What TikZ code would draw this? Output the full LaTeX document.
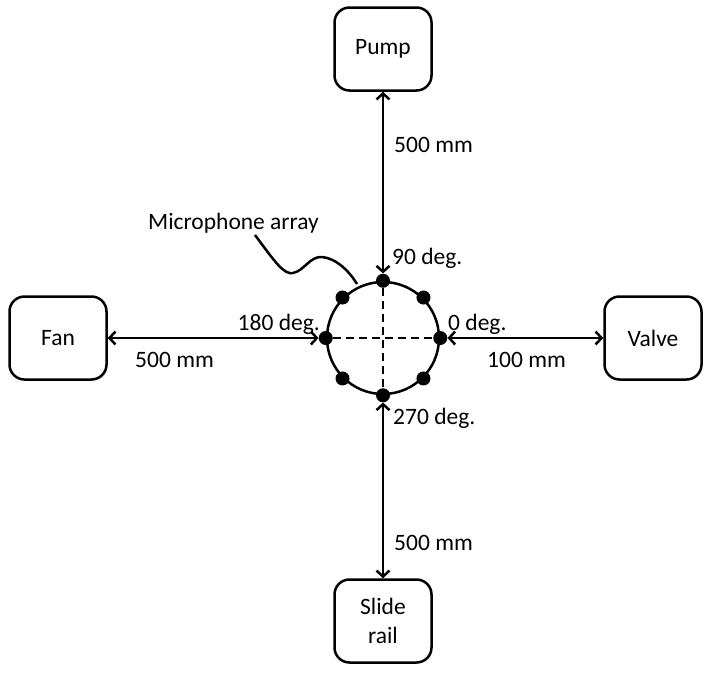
\documentclass[tikz,border=0pt]{standalone}
\usepackage{fontspec}
\setmainfont{Carlito}
\usepackage{tikz}
\usetikzlibrary{shapes,arrows.meta,positioning}
\tikzstyle{device} = [rectangle, draw=black, line width=2.5pt, rounded corners=15pt, minimum width=97pt, minimum height=83pt, align=center, font=\fontsize{23.5}{29}\selectfont]
\tikzstyle{array} = [circle, draw=black, line width=2.5pt, minimum size=112pt, inner sep=0pt]
\tikzstyle{mic} = [circle, fill=black, minimum size=14pt, inner sep=0pt]
\tikzstyle{textonly} = [draw=none, fill=none, inner sep=0pt, font=\fontsize{23.5}{29}\selectfont]
\tikzstyle{tedge}  = [draw, line width=2.5pt, >={Straight Barb[length=6pt,width=13pt]}, <->]
\tikzstyle{axis} = [draw, line width=2.5pt, dash pattern=on 8pt off 5pt]

\begin{document}
\begin{tikzpicture}[x=1pt, y=-1pt]
\useasboundingbox (0,0) rectangle (710,673);

% microphone array =============================
\node[array] (arr) at (383,338) {};
\foreach \a in {0,45,...,315}
  \node[mic] (m\a) at (arr.\a) {};
\path[axis] (m180) -- (m0);
\path[axis] (m90) -- (m270);

% devices
\node[device, above=189pt of arr] (pump) {Pump};
\node[device, left=218pt of arr] (fan) {Fan};
\node[device, right=163pt of arr] (valve) {Valve};
\node[device, below=183pt of arr] (rail) {Slide\\rail};

% labels
\node[textonly, anchor=base west] (l90) at (392,264) {90 deg.};
\node[textonly, anchor=base east] (l180) at (320,330) {180 deg.};
\node[textonly, anchor=base west] (l0) at (448,330) {0 deg.};
\node[textonly, anchor=base west] (l270) at (393,424) {270 deg.};
\node[textonly, anchor=base west] (dtop) at (394,152) {500 mm};
\node[textonly, anchor=base west] (dleft) at (135,367) {500 mm};
\node[textonly, anchor=base west] (dright) at (487,367) {100 mm};
\node[textonly, anchor=base west] (dbottom) at (394,550) {500 mm};
\node[textonly, anchor=base west] (name) at (148,229) {Microphone array};

% edges
\path[tedge] (pump) -- (m90);
\path[tedge] (fan) -- (m180);
\path[tedge] (valve) -- (m0);
\path[tedge] (rail) -- (m270);

% pointer to the array
\coordinate (tail) at (255,235);
\coordinate (tip) at (357,284);
\draw[line width=2.5pt] (tail) .. controls (275,262) and (284,275) .. (293,273)
  .. controls (304,271) and (310,256) .. (322,257)
  .. controls (336,258) and (350,272) .. (tip);

\end{tikzpicture}
\end{document}
